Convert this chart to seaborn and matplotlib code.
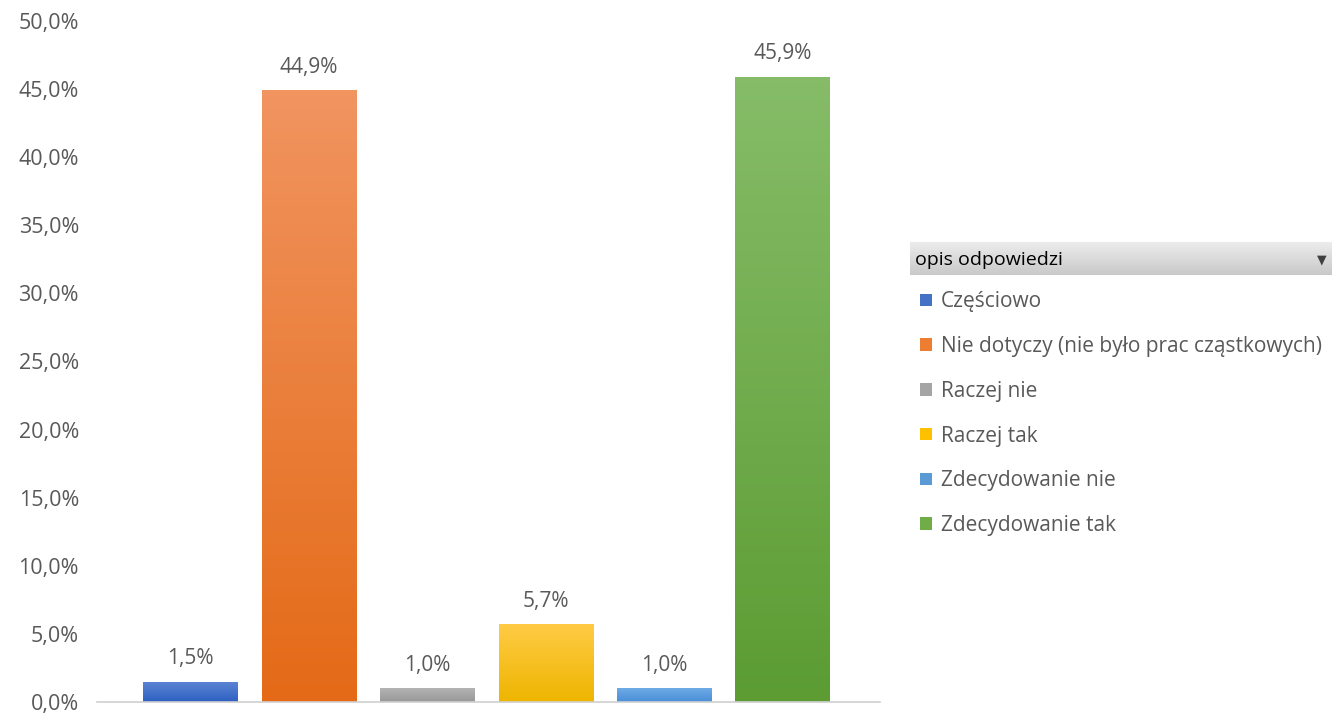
import numpy as np
import pandas as pd
import seaborn as sns
import matplotlib.pyplot as plt
from matplotlib.patches import Patch
from matplotlib.colors import LinearSegmentedColormap

categories = ["Częściowo", "Nie dotyczy (nie było prac cząstkowych)", "Raczej nie",
              "Raczej tak", "Zdecydowanie nie", "Zdecydowanie tak"]
values = [1.5, 44.9, 1.0, 5.7, 1.0, 45.9]
yticks = [0, 5, 10, 15, 20, 25, 30, 35, 40, 45, 50]

# (top, bottom) gradient colours, Excel style
top_colors = ["#5d85d3", "#f19460", "#b3b3b3", "#ffcb45", "#6eaae6", "#86bc68"]
bottom_colors = ["#2e60c2", "#e46a17", "#989898", "#eeb500", "#4a8fd8", "#5c9c33"]
base_colors = ["#4472c4", "#ed7d31", "#a5a5a5", "#ffc000", "#5b9bd5", "#70ad47"]

plt.rcParams['font.family'] = ['Open Sans', 'DejaVu Sans']
text_gray = "#595959"

df = pd.DataFrame({"cat": categories, "val": values})

fig = plt.figure(figsize=(13.32, 7.13), dpi=100)
ax = fig.add_axes([97 / 1332, 1 - 702 / 713, (880 - 97) / 1332, (702 - 21) / 713])

sns.barplot(data=df, x="cat", y="val", hue="cat", palette=base_colors,
            width=0.8, legend=False, ax=ax, saturation=1)

xlim = (-0.79, 5.82)
# gradient fill for each bar
for patch, ctop, cbot in zip(ax.patches, top_colors, bottom_colors):
    x0, y0 = patch.get_x(), patch.get_y()
    w, h = patch.get_width(), patch.get_height()
    cmap = LinearSegmentedColormap.from_list("g", [cbot, ctop])
    grad = np.linspace(0, 1, 100).reshape(-1, 1)
    im = ax.imshow(grad, cmap=cmap, origin="lower", aspect="auto",
                   extent=(x0, x0 + w, y0, y0 + h), zorder=patch.get_zorder() + 0.1)
    im.set_clip_path(patch)

for c in ax.containers:
    ax.bar_label(c, labels=[f"{v:.1f}%".replace(".", ",") for v in c.datavalues],
                 padding=9, fontsize=15, color=text_gray)

ax.set_xlim(*xlim)
ax.set_ylim(0, 50)
ax.set_yticks(yticks)
ax.set_yticklabels([f"{t:.1f}%".replace(".", ",") for t in yticks], fontsize=15.5, color=text_gray)
ax.set_xticks([])
ax.set_xlabel("")
ax.set_ylabel("")
ax.tick_params(axis="y", length=0, pad=13)
for s in ["top", "right", "left"]:
    ax.spines[s].set_visible(False)
ax.spines["bottom"].set_color("#d0d0d0")
ax.spines["bottom"].set_linewidth(1.2)
ax.set_facecolor("white")

# legend header with gray gradient
hax = fig.add_axes([910 / 1332, 1 - 275 / 713, (1332 - 910) / 1332, 33 / 713])
hcmap = LinearSegmentedColormap.from_list("h", ["#c9c9c9", "#ececec"])
hax.imshow(np.linspace(0, 1, 50).reshape(-1, 1), cmap=hcmap, origin="lower",
           aspect="auto", extent=(0, 1, 0, 1))
hax.set_xlim(0, 1)
hax.set_ylim(0, 1)
hax.axis("off")
hax.text(0.012, 0.45, "opis odpowiedzi", fontsize=14, color="black", va="center", ha="left")
hax.text(0.988, 0.45, "▼", fontsize=9, color="#404040", va="center", ha="right",
         family="DejaVu Sans")

handles = [Patch(facecolor=c, edgecolor="none") for c in base_colors]
fig.legend(handles, categories, loc="upper left", bbox_to_anchor=(912 / 1332, 1 - 283 / 713),
           frameon=False, fontsize=15, labelcolor=text_gray, handlelength=0.55,
           handleheight=0.55, handletextpad=0.45, labelspacing=1.14, borderaxespad=0)

fig.savefig("out.png", dpi=100, facecolor="white")
